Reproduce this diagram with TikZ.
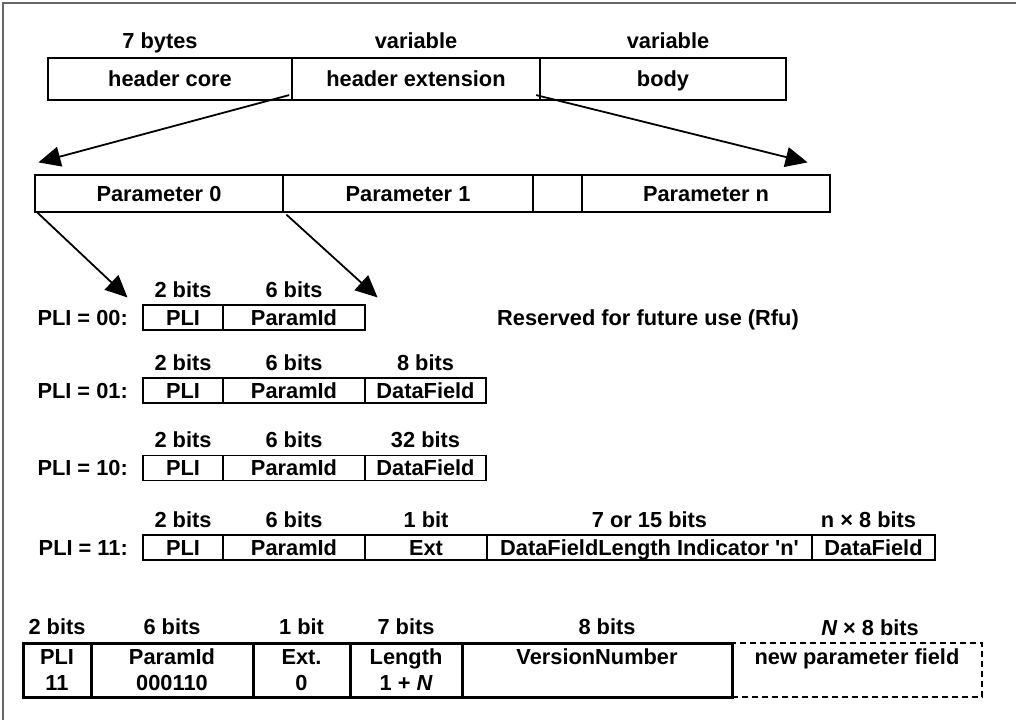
\documentclass[tikz,border=0pt]{standalone}
\usepackage{fontspec}
\setmainfont{Liberation Sans}
\usetikzlibrary{arrows.meta,calc}
\begin{document}
\begin{tikzpicture}[x=1pt,y=-1pt,
  font=\fontsize{21.8}{26}\selectfont\bfseries,
  every node/.style={inner sep=0pt,text height=15.5pt,text depth=0pt},
  hbox/.style={draw,line width=2.2pt,minimum height=42},
  pbox/.style={draw,line width=1.2pt,minimum height=37},
  fbox/.style={draw,line width=1.1pt,minimum height=25},
  tbox/.style={draw,line width=3pt,minimum height=54},
  dbox/.style={draw,line width=1.1pt,dash pattern=on 6pt off 4pt,minimum height=54},
  lbl/.style={anchor=center},
  rowlbl/.style={anchor=east},
  arr/.style={-{Triangle[length=22pt,width=20pt]},line width=1.8pt}
]
\useasboundingbox (0,0) rectangle (1016,720);
\fill[white] (0,0) rectangle (1016,720);
% page frame
\draw[black!60,line width=1.5pt] (3,720) -- (3,3) -- (1016,3);

% message layout
\node[hbox,minimum width=244] (hcore) at (170,79) {header core};
\node[hbox,minimum width=248] (hext) at (416,79) {header extension};
\node[hbox,minimum width=246] (hbody) at (663,79) {body};
\node[lbl] (lcore) at ($(hcore.north)+(-10,-16)$) {7 bytes};
\node[lbl] (lext) at ($(hext.north)+(0,-16)$) {variable};
\node[lbl] (lbody) at ($(hbody.north)+(5,-16)$) {variable};

% parameter list
\node[pbox,minimum width=248] (p0) at (159,193.5) {Parameter 0};
\node[pbox,minimum width=250] (p1) at (408,193.5) {Parameter 1};
\node[pbox,minimum width=49] (pd) at (557.5,193.5) {};
\node[pbox,minimum width=248] (pn) at (706,193.5) {Parameter n};

% PLI = 00
\node[fbox,minimum width=80] (a0) at (183,317.5) {PLI};
\node[fbox,minimum width=142] (a1) at (294,317.5) {ParamId};
\node[rowlbl] (ra) at (128,317.5) {PLI = 00:};
\node[lbl] (ta0) at ($(a0.north)+(0,-15)$) {2 bits};
\node[lbl] (ta1) at ($(a1.north)+(0,-15)$) {6 bits};
\node[lbl] (rfu) at (648,317.5) {Reserved for future use (Rfu)};

% PLI = 01
\node[fbox,minimum width=80] (b0) at (183,390.5) {PLI};
\node[fbox,minimum width=142] (b1) at (294,390.5) {ParamId};
\node[fbox,minimum width=121] (b2) at (425.5,390.5) {DataField};
\node[rowlbl] (rb) at (128,390.5) {PLI = 01:};
\node[lbl] (tb0) at ($(b0.north)+(0,-15)$) {2 bits};
\node[lbl] (tb1) at ($(b1.north)+(0,-15)$) {6 bits};
\node[lbl] (tb2) at ($(b2.north)+(0,-15)$) {8 bits};

% PLI = 10
\node[fbox,minimum width=80] (c0) at (183,468) {PLI};
\node[fbox,minimum width=142] (c1) at (294,468) {ParamId};
\node[fbox,minimum width=121] (c2) at (425.5,468) {DataField};
\node[rowlbl] (rc) at (128,468) {PLI = 10:};
\node[lbl] (tc0) at ($(c0.north)+(0,-15)$) {2 bits};
\node[lbl] (tc1) at ($(c1.north)+(0,-15)$) {6 bits};
\node[lbl] (tc2) at ($(c2.north)+(0,-15)$) {32 bits};

% PLI = 11
\node[fbox,minimum width=80] (d0) at (183,547.5) {PLI};
\node[fbox,minimum width=142] (d1) at (294,547.5) {ParamId};
\node[fbox,minimum width=122] (d2) at (426,547.5) {Ext};
\node[fbox,minimum width=325] (d3) at (649.5,547.5) {DataFieldLength Indicator \textquotesingle n\textquotesingle};
\node[fbox,minimum width=123] (d4) at (873.5,547.5) {DataField};
\node[rowlbl] (rd) at (128,547.5) {PLI = 11:};
\node[lbl] (td0) at ($(d0.north)+(0,-15)$) {2 bits};
\node[lbl] (td1) at ($(d1.north)+(0,-15)$) {6 bits};
\node[lbl] (td2) at ($(d2.north)+(0,-15)$) {1 bit};
\node[lbl] (td3) at ($(d3.north)+(0,-15)$) {7 or 15 bits};
\node[lbl] (td4) at ($(d4.north)+(-5,-15)$) {n × 8 bits};

% version number parameter: cells
\node[dbox,minimum width=250] (e5) at (857,670) {};
\node[tbox,minimum width=68] (e0) at (57,670) {};
\node[tbox,minimum width=162] (e1) at (172,670) {};
\node[tbox,minimum width=97] (e2) at (301.5,670) {};
\node[tbox,minimum width=112] (e3) at (406,670) {};
\node[tbox,minimum width=270] (e4) at (597,670) {};
% cell contents
\node (e0a) at ($(e0.center)+(0,-13)$) {PLI};
\node (e0b) at ($(e0.center)+(0,13)$) {11};
\node (e1a) at ($(e1.center)+(0,-13)$) {ParamId};
\node (e1b) at ($(e1.center)+(0,13)$) {000110};
\node (e2a) at ($(e2.center)+(0,-13)$) {Ext.};
\node (e2b) at ($(e2.center)+(0,13)$) {0};
\node (e3a) at ($(e3.center)+(0,-13)$) {Length};
\node (e3b) at ($(e3.center)+(0,13)$) {1 + {\itshape N}};
\node (e4a) at ($(e4.center)+(0,-13)$) {VersionNumber};
\node (e5a) at ($(e5.center)+(0,-13)$) {new parameter field};
% field widths
\node[lbl] (te0) at ($(e0.north)+(0,-15)$) {2 bits};
\node[lbl] (te1) at ($(e1.north)+(0,-15)$) {6 bits};
\node[lbl] (te2) at ($(e2.north)+(0,-15)$) {1 bit};
\node[lbl] (te3) at ($(e3.north)+(0,-15)$) {7 bits};
\node[lbl] (te4) at ($(e4.north)+(10,-15)$) {8 bits};
\node[lbl] (te5) at ($(e5.north)+(13,-15)$) {{\itshape N} × 8 bits};

% connectors
\draw[arr] ($(hcore.south east)+(-4,-6)$) -- ($(p0.north west)+(4,-12)$);
\draw[arr] ($(hext.south east)+(-5,-6)$) -- ($(pn.north east)+(-23,-12)$);
\draw[arr] ($(p0.south west)+(3,0)$) -- ($(a0.north west)+(-15,-7)$);
\draw[arr] ($(p1.south west)+(4,2)$) -- ($(a1.north east)+(12,-7)$);
\end{tikzpicture}
\end{document}
